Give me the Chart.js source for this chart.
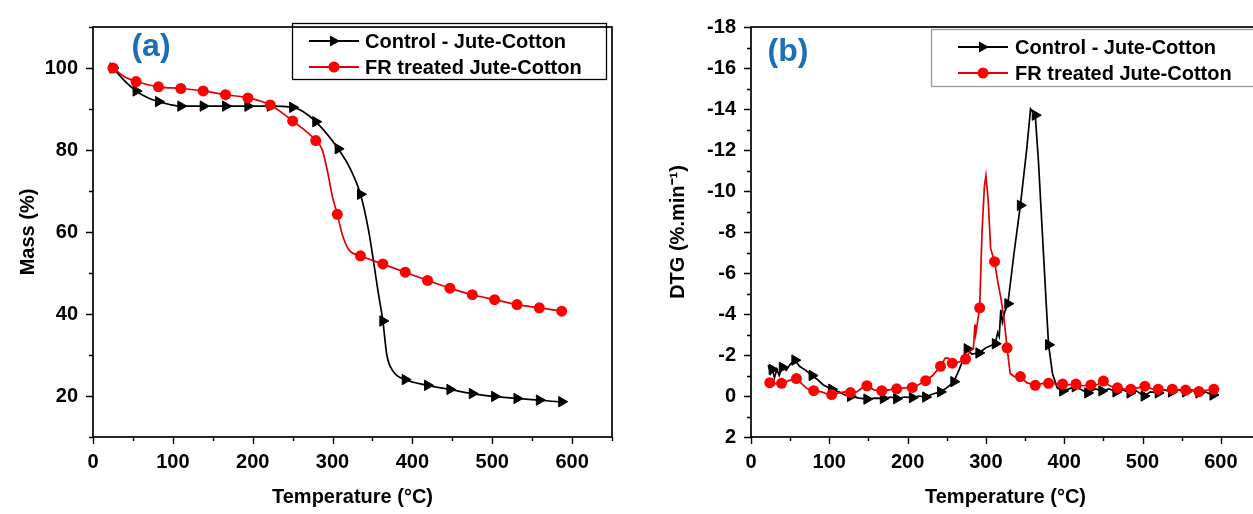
<!DOCTYPE html>
<html>
<head>
<meta charset="utf-8">
<script src="https://cdn.jsdelivr.net/npm/chart.js@4.4.1/dist/chart.umd.min.js"></script>
<style>
  body { margin: 0; width: 1253px; height: 514px; overflow: hidden; background: #fff; }
  canvas { position: absolute; top: 0; }
  #chartA { left: 0; }
  #chartB { left: 625px; }
</style>
</head>
<body>
<canvas id="chartA" width="625" height="514"></canvas>
<canvas id="chartB" width="648" height="514"></canvas>
<script>
const labels = ["Control - Jute-Cotton", "FR treated Jute-Cotton"];

// (a) mass loss curves
const tempCtrlA = [25, 40, 54, 68, 82, 96, 110, 138, 166, 194, 222, 250, 262, 279, 307, 322, 335, 345, 352, 357, 363, 368, 376, 391, 419, 447, 475, 503, 531, 559, 587, 592];
const massCtrl = [100, 96.8, 94.4, 92.8, 91.8, 91.1, 90.7, 90.7, 90.7, 90.7, 90.7, 90.4, 89.5, 86.9, 80.3, 75.5, 69.2, 60.5, 52, 45.5, 38.3, 30, 26, 24.0, 22.6, 21.6, 20.6, 19.9, 19.4, 19.0, 18.6, 18.6];
const markCtrlA = [25, 54, 82, 110, 138, 166, 194, 222, 250, 279, 307, 335, 363, 391, 419, 447, 475, 503, 531, 559, 587];

const tempFrA = [25, 40, 54, 82, 110, 138, 166, 194, 222, 250, 279, 287, 294, 300, 306, 312, 320, 335, 363, 391, 419, 447, 475, 503, 531, 559, 587, 592];
const massFr = [100, 97.8, 96.7, 95.4, 95.0, 94.4, 93.5, 92.7, 91.0, 87.1, 82.3, 80.1, 74.5, 68.5, 64.3, 59.5, 55.8, 54.2, 52.2, 50.2, 48.2, 46.3, 44.7, 43.5, 42.3, 41.5, 40.7, 40.5];
const markFrA = [25, 54, 82, 110, 138, 166, 194, 222, 250, 279, 306, 335, 363, 391, 419, 447, 475, 503, 531, 559, 587];

// (b) DTG curves
const tempCtrlB = [22, 25, 27, 30, 33, 36, 40, 45, 50, 56, 62, 70, 78, 85, 92, 103, 112, 120, 127, 138, 148, 158, 169, 178, 186, 196, 206, 214, 223, 232, 242, 250, 259, 266, 272, 276, 282, 291, 300, 306, 312, 315, 317, 319, 321, 324, 328, 336, 344, 352, 357, 363, 367, 372, 377, 380, 385, 391, 398, 406, 414, 422, 430, 440, 448, 457, 466, 475, 484, 492, 502, 510, 520, 528, 537, 546, 555, 563, 572, 580, 590];
const dtgCtrl = [-1.5, -1.1, -1.3, -0.9, -1.3, -1.0, -1.4, -1.25, -1.55, -1.75, -1.45, -1.25, -1.0, -0.8, -0.55, -0.33, -0.2, -0.05, 0.02, 0.1, 0.15, 0.1, 0.12, 0.05, 0.13, 0.05, 0.08, 0.0, 0.05, -0.1, -0.2, -0.4, -0.7, -1.3, -1.9, -2.3, -2.05, -2.1, -2.35, -2.45, -2.55, -3.1, -2.9, -4.2, -3.6, -4.1, -4.5, -7.0, -9.3, -12.0, -14.0, -13.7, -11.5, -8.0, -4.5, -2.5, -1.1, -0.4, -0.25, -0.35, -0.45, -0.3, -0.15, -0.35, -0.25, -0.35, -0.2, -0.3, -0.15, -0.25, 0.0, -0.2, -0.15, -0.3, -0.2, -0.3, -0.2, -0.3, -0.15, -0.2, -0.05];
const markCtrlB = [27, 40, 56, 78, 103, 127, 148, 169, 186, 206, 223, 242, 259, 276, 291, 312, 328, 344, 363, 380, 398, 414, 430, 448, 466, 484, 502, 520, 537, 555, 572, 590];

const tempFrB = [22, 24, 30, 39, 48, 58, 66, 72, 80, 90, 97, 103, 112, 120, 127, 135, 142, 148, 157, 167, 176, 186, 196, 206, 214, 223, 232, 242, 248, 252, 257, 265, 274, 280, 284, 286, 287, 290, 292, 295, 298, 300, 303, 306, 311, 315, 319, 323, 327, 331, 336, 344, 352, 363, 371, 380, 390, 398, 406, 415, 424, 434, 442, 450, 458, 468, 476, 485, 494, 503, 512, 520, 529, 538, 547, 555, 564, 572, 581, 591];
const dtgFr = [-0.65, -0.65, -0.6, -0.62, -0.75, -0.85, -0.55, -0.35, -0.26, -0.2, -0.1, -0.07, -0.15, -0.2, -0.17, -0.2, -0.4, -0.5, -0.3, -0.26, -0.3, -0.35, -0.4, -0.42, -0.55, -0.75, -1.0, -1.45, -1.85, -1.85, -1.6, -1.65, -1.8, -2.2, -2.3, -3.5, -3.0, -3.8, -4.3, -8.0, -10.2, -10.75, -9.5, -7.2, -6.55, -5.6, -4.8, -3.8, -2.35, -1.1, -0.95, -0.95, -0.65, -0.52, -0.6, -0.62, -0.6, -0.58, -0.55, -0.58, -0.5, -0.54, -0.55, -0.73, -0.5, -0.4, -0.35, -0.33, -0.4, -0.48, -0.35, -0.33, -0.3, -0.33, -0.3, -0.29, -0.25, -0.22, -0.28, -0.33];
const markFrB = [24, 39, 58, 80, 103, 127, 148, 167, 186, 206, 223, 242, 257, 274, 292, 311, 327, 344, 363, 380, 398, 415, 434, 450, 468, 485, 503, 520, 538, 555, 572, 591];

const FONT = "'Liberation Sans', Arial, sans-serif";
const RED_LINE = "#e00000";
const RED = "#ff0000";

let toPoints = (xs, ys) => xs.map((x, i) => ({ x: x, y: ys[i] }));

// frame + major/minor tick marks (pointing out)
const frameTicks = {
  id: "frameTicks",
  afterDraw(chart) {
    const { ctx, chartArea: a, scales } = chart;
    ctx.save();
    ctx.strokeStyle = "#000";
    ctx.lineWidth = 1.7;
    ctx.strokeRect(a.left, a.top, a.right - a.left, a.bottom - a.top);
    ctx.lineWidth = 1.4;
    ctx.beginPath();
    scales.x.ticks.forEach((t) => {
      const px = Math.round(scales.x.getPixelForValue(t.value)) + 0.5;
      const len = t.label !== "" ? 7 : 4;
      ctx.moveTo(px, a.bottom);
      ctx.lineTo(px, a.bottom + len);
    });
    scales.y.ticks.forEach((t) => {
      const py = Math.round(scales.y.getPixelForValue(t.value)) + 0.5;
      const len = t.label !== "" ? 7 : 4;
      ctx.moveTo(a.left, py);
      ctx.lineTo(a.left - len, py);
    });
    ctx.stroke();
    ctx.restore();
  },
};

// boxed legend with line + marker samples, and the panel tag
const boxLegend = {
  id: "boxLegend",
  afterDatasetsDraw(chart, args, o) {
    const ctx = chart.ctx;
    ctx.save();
    ctx.fillStyle = "#fff";
    ctx.fillRect(o.x, o.y, o.w, o.h);
    ctx.strokeStyle = o.border;
    ctx.lineWidth = 1.3;
    ctx.strokeRect(o.x + 0.5, o.y + 0.5, o.w, o.h);
    chart.data.datasets.forEach((ds, i) => {
      const cy = o.y + o.rows[i];
      const x1 = o.x + o.lineStart, x2 = o.x + o.lineEnd, mx = (x1 + x2) / 2;
      ctx.strokeStyle = ds.borderColor;
      ctx.lineWidth = 2;
      ctx.beginPath();
      ctx.moveTo(x1, cy);
      ctx.lineTo(x2, cy);
      ctx.stroke();
      ctx.fillStyle = ds.pointBackgroundColor;
      ctx.beginPath();
      if (ds.pointStyle === "triangle") {
        ctx.moveTo(mx + 6, cy);
        ctx.lineTo(mx - 4, cy - 5.5);
        ctx.lineTo(mx - 4, cy + 5.5);
      } else {
        ctx.arc(mx, cy, 5.5, 0, Math.PI * 2);
      }
      ctx.fill();
      ctx.fillStyle = "#000";
      ctx.font = `bold 20px ${FONT}`;
      ctx.textBaseline = "middle";
      ctx.textAlign = "left";
      ctx.fillText(ds.label, o.x + o.textStart, cy + 1);
    });
    ctx.fillStyle = "#1b6fb6";
    ctx.font = `bold 32px ${FONT}`;
    ctx.textAlign = "center";
    ctx.textBaseline = "middle";
    ctx.fillText(o.tag, o.tagX, o.tagY);
    ctx.restore();
  },
};

let makeDatasets = (ctrl, fr, markCtrl, markFr, smooth) => [
  {
    label: labels[0],
    data: ctrl,
    borderColor: "#000",
    backgroundColor: "#000",
    pointBackgroundColor: "#000",
    pointBorderColor: "#000",
    pointStyle: "triangle",
    rotation: 90,
    pointRadius: (c) => (markCtrl.includes(c.raw.x) ? 6 : 0),
    borderWidth: 1.7,
    pointBorderWidth: 1,
    cubicInterpolationMode: smooth ? "monotone" : "default",
    tension: 0,
    order: 1,
  },
  {
    label: labels[1],
    data: fr,
    borderColor: RED_LINE,
    backgroundColor: RED,
    pointBackgroundColor: RED,
    pointBorderColor: RED,
    pointStyle: "circle",
    pointRadius: (c) => (markFr.includes(c.raw.x) ? 5.5 : 0),
    borderWidth: 1.7,
    pointBorderWidth: 0,
    cubicInterpolationMode: smooth ? "monotone" : "default",
    tension: 0,
    order: 0,
  },
];

let configChart = (datasets, yScale, yTitle, yWidth, titlePad, pad, legend) => ({
  type: "line",
  data: { datasets: datasets },
  options: {
    responsive: false,
    animation: false,
    layout: { padding: pad },
    plugins: { legend: { display: false }, tooltip: { enabled: false }, boxLegend: legend },
    scales: {
      x: {
        type: "linear",
        min: 0,
        max: 650,
        afterFit: (s) => { s.height = 77; },
        border: { display: false },
        grid: { display: false, drawTicks: false },
        ticks: {
          stepSize: 50,
          autoSkip: false,
          maxRotation: 0,
          padding: 13,
          color: "#000",
          font: { family: FONT, size: 20, weight: "bold" },
          callback: (v) => (v % 100 === 0 && v <= 600 ? v : ""),
        },
        title: {
          display: true,
          text: "Temperature (°C)",
          color: "#000",
          font: { family: FONT, size: 20, weight: "bold" },
          padding: { top: 0, bottom: 5 },
        },
      },
      y: Object.assign(
        {
          type: "linear",
          afterFit: (s) => { s.width = yWidth; },
          border: { display: false },
          grid: { display: false, drawTicks: false },
          title: {
            display: true,
            text: yTitle,
            color: "#000",
            font: { family: FONT, size: 20, weight: "bold" },
            padding: { top: titlePad, bottom: 0 },
          },
        },
        yScale
      ),
    },
  },
  plugins: [frameTicks, boxLegend],
});

const tickFont = { family: FONT, size: 20, weight: "bold" };

let chartA = new Chart(
  document.getElementById("chartA"),
  configChart(
    makeDatasets(toPoints(tempCtrlA, massCtrl), toPoints(tempFrA, massFr), markCtrlA, markFrA, true),
    {
      min: 10,
      max: 110,
      ticks: {
        stepSize: 10, autoSkip: false, padding: 15, color: "#000", font: tickFont,
        callback: (v) => (v % 20 === 0 && v >= 20 && v <= 100 ? v : ""),
      },
    },
    "Mass (%)",
    93,
    16,
    { top: 18, right: 13, bottom: 0, left: 0 },
    { x: 292, y: 23, w: 314, h: 56, rows: [18, 44], lineStart: 17, lineEnd: 67, textStart: 73, border: "#000", tag: "(a)", tagX: 151, tagY: 47 }
  )
);

let chartB = new Chart(
  document.getElementById("chartB"),
  configChart(
    makeDatasets(toPoints(tempCtrlB, dtgCtrl), toPoints(tempFrB, dtgFr), markCtrlB, markFrB, false),
    {
      min: -18,
      max: 2,
      reverse: true,
      ticks: {
        stepSize: 1, autoSkip: false, padding: 15, color: "#000", font: tickFont,
        callback: (v) => (v % 2 === 0 ? v : ""),
      },
    },
    "DTG (%.min⁻¹)",
    126,
    41,
    { top: 20, right: 0, bottom: 0, left: 0 },
    { x: 306, y: 29, w: 400, h: 57, rows: [18, 44], lineStart: 27, lineEnd: 77, textStart: 84, border: "#999", tag: "(b)", tagX: 163, tagY: 52 }
  )
);
</script>
</body>
</html>
